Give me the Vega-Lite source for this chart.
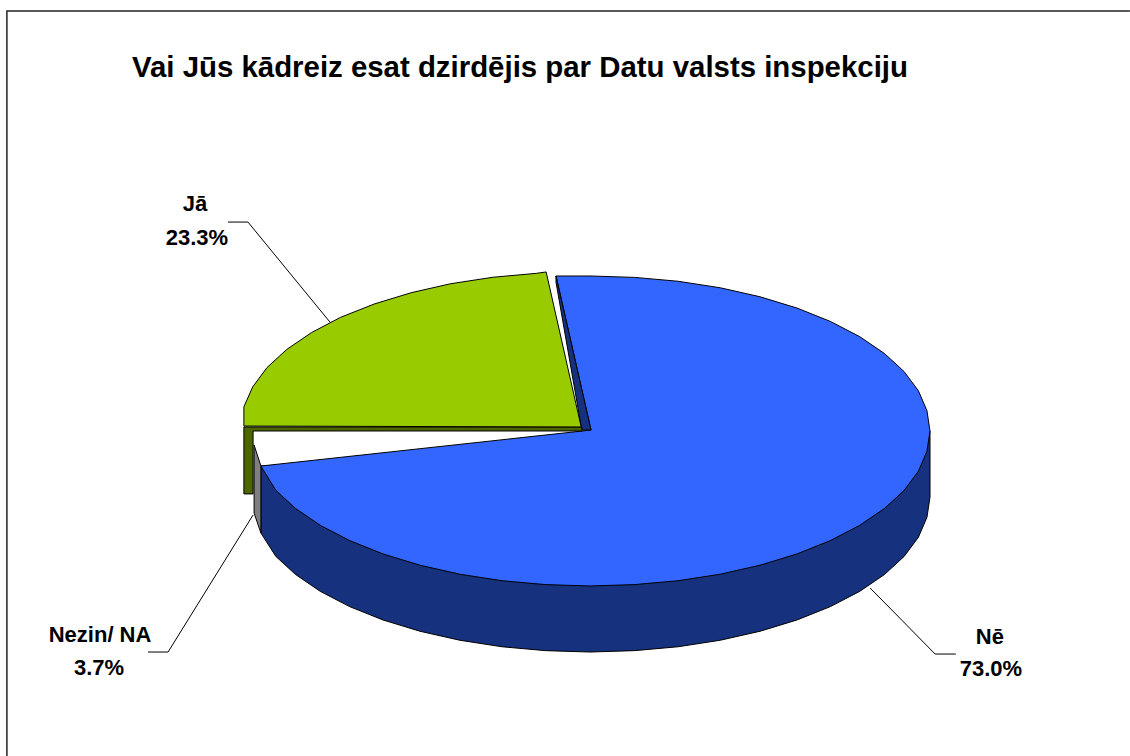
{"$schema":"https://vega.github.io/schema/vega-lite/v6.json","width":1130,"height":756,"padding":0,"autosize":"none","background":"#ffffff","config":{"view":{"stroke":null}},
"title":{"text":"Vai Jūs kādreiz esat dzirdējis par Datu valsts inspekciju","font":"Liberation Sans","fontSize":29.4,"fontWeight":"bold","color":"#000000","anchor":"start","frame":"group","offset":0,"dx":132,"dy":106,"baseline":"alphabetic"},
"datasets":{"shapes":[
{"part":"Nē wall","i":0,"x":100,"y":0},{"part":"Nē wall","i":1,"x":100,"y":-42.6},{"part":"Nē wall","i":2,"x":99.1,"y":-55.7},{"part":"Nē wall","i":3,"x":96.6,"y":-68.5},{"part":"Nē wall","i":4,"x":92.4,"y":-80.9},{"part":"Nē wall","i":5,"x":86.6,"y":-92.6},{"part":"Nē wall","i":6,"x":79.3,"y":-103.5},{"part":"Nē wall","i":7,"x":70.7,"y":-113.3},{"part":"Nē wall","i":8,"x":60.9,"y":-121.9},{"part":"Nē wall","i":9,"x":50,"y":-129.2},{"part":"Nē wall","i":10,"x":38.3,"y":-135},{"part":"Nē wall","i":11,"x":25.9,"y":-139.2},{"part":"Nē wall","i":12,"x":13.1,"y":-141.7},{"part":"Nē wall","i":13,"x":0,"y":-142.6},{"part":"Nē wall","i":14,"x":-13.1,"y":-141.7},{"part":"Nē wall","i":15,"x":-25.9,"y":-139.2},{"part":"Nē wall","i":16,"x":-38.3,"y":-135},{"part":"Nē wall","i":17,"x":-50,"y":-129.2},{"part":"Nē wall","i":18,"x":-60.9,"y":-121.9},{"part":"Nē wall","i":19,"x":-70.7,"y":-113.3},{"part":"Nē wall","i":20,"x":-79.3,"y":-103.5},{"part":"Nē wall","i":21,"x":-86.6,"y":-92.6},{"part":"Nē wall","i":22,"x":-92.4,"y":-80.9},{"part":"Nē wall","i":23,"x":-96.8,"y":-65.8},{"part":"Nē wall","i":24,"x":-96.8,"y":-22.6},{"part":"Nē wall","i":25,"x":100,"y":0},
{"part":"Nē top","i":0,"x":0.3,"y":0.6},{"part":"Nē top","i":1,"x":-10,"y":100},{"part":"Nē top","i":2,"x":0,"y":100},{"part":"Nē top","i":3,"x":13.1,"y":99.1},{"part":"Nē top","i":4,"x":25.9,"y":96.6},{"part":"Nē top","i":5,"x":38.3,"y":92.4},{"part":"Nē top","i":6,"x":50,"y":86.6},{"part":"Nē top","i":7,"x":60.9,"y":79.3},{"part":"Nē top","i":8,"x":70.7,"y":70.7},{"part":"Nē top","i":9,"x":79.3,"y":60.9},{"part":"Nē top","i":10,"x":86.6,"y":50},{"part":"Nē top","i":11,"x":92.4,"y":38.3},{"part":"Nē top","i":12,"x":96.6,"y":25.9},{"part":"Nē top","i":13,"x":99.1,"y":13.1},{"part":"Nē top","i":14,"x":100,"y":0},{"part":"Nē top","i":15,"x":99.1,"y":-13.1},{"part":"Nē top","i":16,"x":96.6,"y":-25.9},{"part":"Nē top","i":17,"x":92.4,"y":-38.3},{"part":"Nē top","i":18,"x":86.6,"y":-50},{"part":"Nē top","i":19,"x":79.3,"y":-60.9},{"part":"Nē top","i":20,"x":70.7,"y":-70.7},{"part":"Nē top","i":21,"x":60.9,"y":-79.3},{"part":"Nē top","i":22,"x":50,"y":-86.6},{"part":"Nē top","i":23,"x":38.3,"y":-92.4},{"part":"Nē top","i":24,"x":25.9,"y":-96.6},{"part":"Nē top","i":25,"x":13.1,"y":-99.1},{"part":"Nē top","i":26,"x":0,"y":-100},{"part":"Nē top","i":27,"x":-13.1,"y":-99.1},{"part":"Nē top","i":28,"x":-25.9,"y":-96.6},{"part":"Nē top","i":29,"x":-38.3,"y":-92.4},{"part":"Nē top","i":30,"x":-50,"y":-86.6},{"part":"Nē top","i":31,"x":-60.9,"y":-79.3},{"part":"Nē top","i":32,"x":-70.7,"y":-70.7},{"part":"Nē top","i":33,"x":-79.3,"y":-60.9},{"part":"Nē top","i":34,"x":-86.6,"y":-50},{"part":"Nē top","i":35,"x":-92.4,"y":-38.3},{"part":"Nē top","i":36,"x":-96.8,"y":-22.6},{"part":"Nē top","i":37,"x":0.3,"y":0.6},
{"part":"Nē inner","i":0,"x":-10,"y":100},{"part":"Nē inner","i":1,"x":0.3,"y":0.6},{"part":"Nē inner","i":2,"x":-2.4,"y":0.6},{"part":"Nē inner","i":3,"x":-10,"y":96},{"part":"Nē inner","i":4,"x":-10,"y":100},
{"part":"Nezin wall","i":0,"x":-98.8,"y":-9},{"part":"Nezin wall","i":1,"x":-96.8,"y":-22.6},{"part":"Nezin wall","i":2,"x":-96.8,"y":-65.8},{"part":"Nezin wall","i":3,"x":-98.8,"y":-52.9},{"part":"Nezin wall","i":4,"x":-98.8,"y":-9},
{"part":"Jā wall","i":0,"x":-101.8,"y":2.6},{"part":"Jā wall","i":1,"x":-2.4,"y":2.6},{"part":"Jā wall","i":2,"x":-2.4,"y":0},{"part":"Jā wall","i":3,"x":-99.1,"y":0},{"part":"Jā wall","i":4,"x":-99.1,"y":-40.6},{"part":"Jā wall","i":5,"x":-101.8,"y":-40.6},{"part":"Jā wall","i":6,"x":-101.8,"y":2.6},
{"part":"Jā top","i":0,"x":-2.6,"y":2.6},{"part":"Jā top","i":1,"x":-12.9,"y":102.6},{"part":"Jā top","i":2,"x":-15.8,"y":101.7},{"part":"Jā top","i":3,"x":-28.5,"y":99.2},{"part":"Jā top","i":4,"x":-41,"y":95},{"part":"Jā top","i":5,"x":-52.6,"y":89.2},{"part":"Jā top","i":6,"x":-63.5,"y":81.9},{"part":"Jā top","i":7,"x":-73.4,"y":73.3},{"part":"Jā top","i":8,"x":-81.9,"y":63.5},{"part":"Jā top","i":9,"x":-89.2,"y":52.6},{"part":"Jā top","i":10,"x":-95,"y":40.9},{"part":"Jā top","i":11,"x":-99.2,"y":28.5},{"part":"Jā top","i":12,"x":-101.8,"y":15.6},{"part":"Jā top","i":13,"x":-101.8,"y":3.2},{"part":"Jā top","i":14,"x":-2.6,"y":2.6}
],
"leaders":[
{"part":"Jā","i":0,"x":-106.5,"y":134.8},{"part":"Jā","i":1,"x":-100.6,"y":134.8},{"part":"Jā","i":2,"x":-76.5,"y":70.3},
{"part":"Nē","i":0,"x":82.4,"y":-101.3},{"part":"Nē","i":1,"x":101.5,"y":-143.9},{"part":"Nē","i":2,"x":107.6,"y":-143.9},
{"part":"Nezin","i":0,"x":-99.1,"y":-54.2},{"part":"Nezin","i":1,"x":-124.1,"y":-142.6},{"part":"Nezin","i":2,"x":-130,"y":-142.6}
],
"frame":[{"i":0,"x":-171.5,"y":-209.7},{"i":1,"x":-171.5,"y":271},{"i":2,"x":158.8,"y":271}],
"labels":[
{"text":"Jā","x":-116.2,"y":146.5},{"text":"23.3%","x":-115.6,"y":124.5},
{"text":"Nē","x":117.6,"y":-132.9},{"text":"73.0%","x":117.9,"y":-153.5},
{"text":"Nezin/ NA","x":-144.1,"y":-131.6},{"text":"3.7%","x":-144.4,"y":-152.9}
]},
"encoding":{
"x":{"field":"x","type":"quantitative","axis":null,"scale":{"domain":[-173.53,158.82],"nice":false,"zero":false}},
"y":{"field":"y","type":"quantitative","axis":null,"scale":{"domain":[-209.68,278.06],"nice":false,"zero":false}}
},
"layer":[
{"data":{"name":"frame"},"mark":{"type":"line","stroke":"#222222","strokeWidth":1.5},"encoding":{"order":{"field":"i"}}},
{"data":{"name":"shapes"},"transform":[{"filter":"datum.part==='Nē wall'"}],"mark":{"type":"line","fill":"#16327f","stroke":"#000000","strokeWidth":1},"encoding":{"order":{"field":"i"}}},
{"data":{"name":"shapes"},"transform":[{"filter":"datum.part==='Nē top'"}],"mark":{"type":"line","fill":"#3366ff","stroke":"#000000","strokeWidth":1},"encoding":{"order":{"field":"i"}}},
{"data":{"name":"shapes"},"transform":[{"filter":"datum.part==='Nē inner'"}],"mark":{"type":"line","fill":"#16327f","stroke":"#000000","strokeWidth":1},"encoding":{"order":{"field":"i"}}},
{"data":{"name":"shapes"},"transform":[{"filter":"datum.part==='Nezin wall'"}],"mark":{"type":"line","fill":"#808080","stroke":"#000000","strokeWidth":1},"encoding":{"order":{"field":"i"}}},
{"data":{"name":"shapes"},"transform":[{"filter":"datum.part==='Jā wall'"}],"mark":{"type":"line","fill":"#4d6600","stroke":"#000000","strokeWidth":1},"encoding":{"order":{"field":"i"}}},
{"data":{"name":"shapes"},"transform":[{"filter":"datum.part==='Jā top'"}],"mark":{"type":"line","fill":"#99cc00","stroke":"#000000","strokeWidth":1},"encoding":{"order":{"field":"i"}}},
{"data":{"name":"leaders"},"mark":{"type":"line","stroke":"#000000","strokeWidth":1},"encoding":{"detail":{"field":"part"},"order":{"field":"i"}}},
{"data":{"name":"labels"},"mark":{"type":"text","font":"Liberation Sans","fontSize":22,"fontWeight":"bold","color":"#000000","align":"center","baseline":"middle"},"encoding":{"text":{"field":"text"}}}
]}
